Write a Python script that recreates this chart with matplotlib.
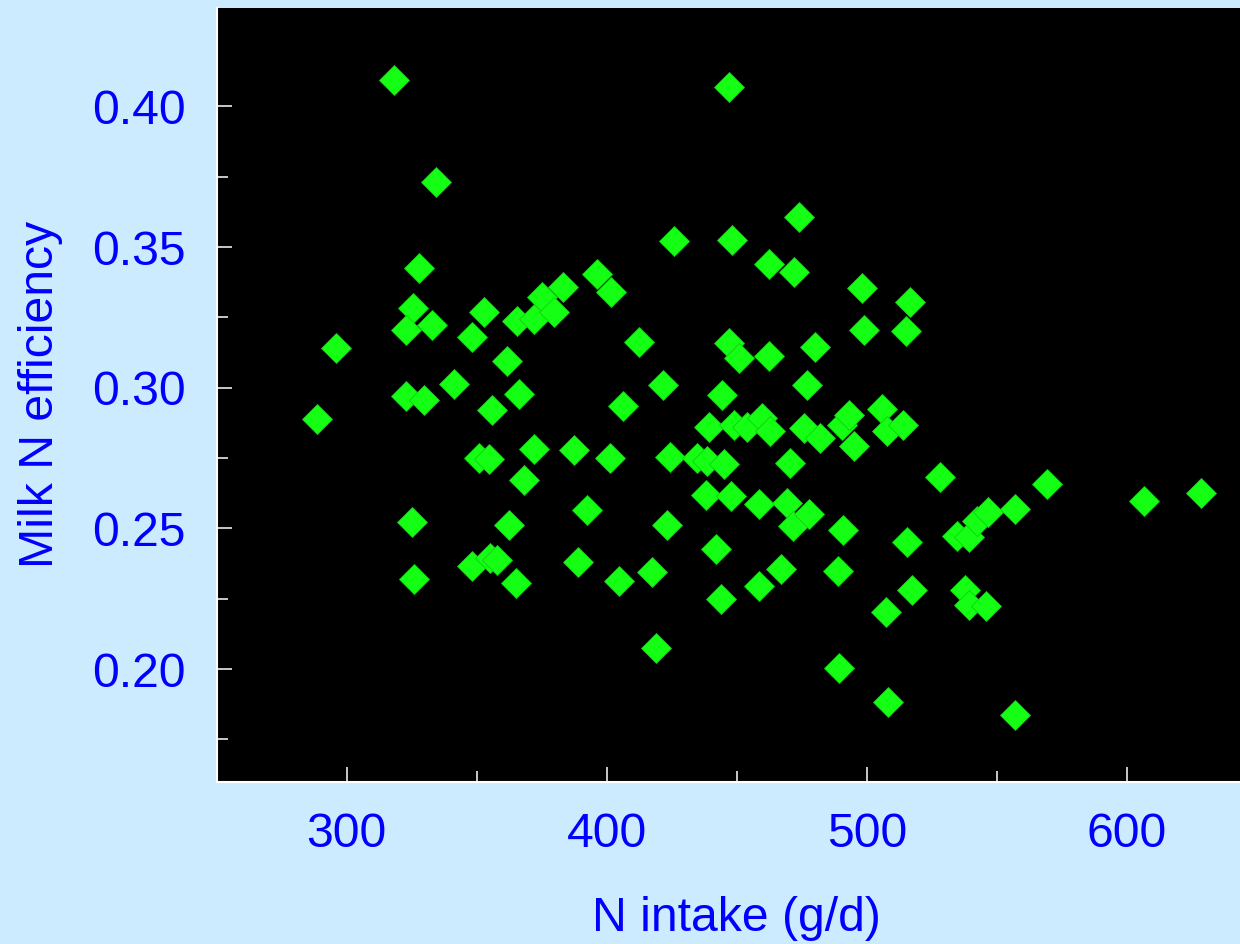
import matplotlib
matplotlib.use("Agg")
import matplotlib.pyplot as plt
from matplotlib.ticker import MultipleLocator, FixedLocator, FormatStrFormatter

# N intake (g/d) and milk N efficiency per cow
n_intake = [
    288.5, 296.0, 318.4, 334.2, 327.8, 325.5, 323.0, 333.0, 322.7, 329.8,
    325.2, 326.1, 341.3, 348.4, 352.8, 361.6, 365.4, 371.9, 375.3, 379.6,
    383.3, 366.4, 355.9, 350.9, 354.8, 372.0, 387.5, 368.2, 392.3, 362.4,
    348.2, 355.1, 358.0, 388.8, 365.1,
    396.4, 401.5, 406.2, 401.1, 404.9, 412.4, 417.3, 419.0, 421.7, 423.1,
    424.3, 425.9, 434.8, 438.0, 438.6, 439.2, 441.9, 444.1, 444.4, 445.0,
    447.1, 447.2, 447.6, 448.1, 448.8, 451.0, 454.0, 458.4, 458.6, 459.7,
    462.3, 462.3, 462.9, 466.9, 469.3, 470.3, 471.6, 471.9, 474.1, 475.7,
    477.2, 477.9, 480.2, 482.1, 489.0, 489.4, 490.5, 490.7, 493.0, 495.2,
    498.1, 499.0, 505.8, 507.5, 507.7, 508.2,
    516.7, 515.0, 514.1, 515.4, 517.2, 528.3, 534.8, 539.1, 542.3, 546.5,
    537.8, 539.1, 545.9, 557.0, 557.1, 569.4, 606.5, 628.5,
]
milk_n_eff = [
    0.2888, 0.3142, 0.4095, 0.3730, 0.3424, 0.3284, 0.3204, 0.3224, 0.2971, 0.2956,
    0.2521, 0.2320, 0.3012, 0.3180, 0.3268, 0.3094, 0.3238, 0.3245, 0.3323, 0.3268,
    0.3359, 0.2979, 0.2921, 0.2749, 0.2745, 0.2783, 0.2779, 0.2671, 0.2566, 0.2511,
    0.2366, 0.2393, 0.2388, 0.2380, 0.2306,
    0.3406, 0.3339, 0.2934, 0.2752, 0.2314, 0.3162, 0.2345, 0.2073, 0.3009, 0.2513,
    0.2755, 0.3522, 0.2751, 0.2619, 0.2741, 0.2862, 0.2425, 0.2250, 0.2975, 0.2729,
    0.3160, 0.4071, 0.2615, 0.3527, 0.2869, 0.3104, 0.2862, 0.2585, 0.2296, 0.2893,
    0.3441, 0.3113, 0.2847, 0.2357, 0.2591, 0.2733, 0.2510, 0.3411, 0.3607, 0.2857,
    0.3009, 0.2552, 0.3145, 0.2820, 0.2349, 0.2004, 0.2869, 0.2495, 0.2904, 0.2792,
    0.3353, 0.3204, 0.2925, 0.2202, 0.2847, 0.1883,
    0.3305, 0.3203, 0.2869, 0.2450, 0.2280, 0.2683, 0.2474, 0.2471, 0.2526, 0.2557,
    0.2280, 0.2228, 0.2225, 0.2569, 0.1837, 0.2657, 0.2599, 0.2626,
]

bg = "#CCEBFF"
txt = "#0000FF"
fs = 34.7

plt.rcParams["font.family"] = ["Liberation Sans", "DejaVu Sans"]

fig = plt.figure(figsize=(12.4, 9.44), dpi=100, facecolor=bg)
# axes run a little past the right edge of the figure
ax = fig.add_axes([0.1746, 0.1721, 0.8391, 0.8194])
ax.set_facecolor("black")

ax.plot(n_intake, milk_n_eff, "D", ms=15, color="#14FF14",
        mec="#10D010", mew=0.6, clip_on=False)

ax.set_xlim(250, 650)
ax.set_ylim(0.16, 0.435)
ax.xaxis.set_major_locator(MultipleLocator(100))
ax.xaxis.set_minor_locator(MultipleLocator(50))
ax.yaxis.set_major_locator(MultipleLocator(0.05))
ax.yaxis.set_minor_locator(FixedLocator([0.175, 0.225, 0.275, 0.325, 0.375]))
ax.yaxis.set_major_formatter(FormatStrFormatter("%.2f"))

for s in ["top", "right"]:
    ax.spines[s].set_visible(False)
for s in ["left", "bottom"]:
    ax.spines[s].set_color("white")
    ax.spines[s].set_linewidth(1.5)

ax.tick_params(which="both", direction="in", color="white", width=1.1,
               labelcolor=txt, labelsize=fs, pad=22)
ax.tick_params(which="major", length=10.8)
ax.tick_params(which="minor", length=7.6)

ax.set_xlabel("N intake (g/d)", fontsize=fs, color=txt)
ax.set_ylabel("Milk N efficiency", fontsize=fs, color=txt)
ax.xaxis.set_label_coords(0.5, -0.148)
ax.yaxis.set_label_coords(-0.148, 0.5)

fig.savefig("out.png", dpi=100, facecolor=bg)
